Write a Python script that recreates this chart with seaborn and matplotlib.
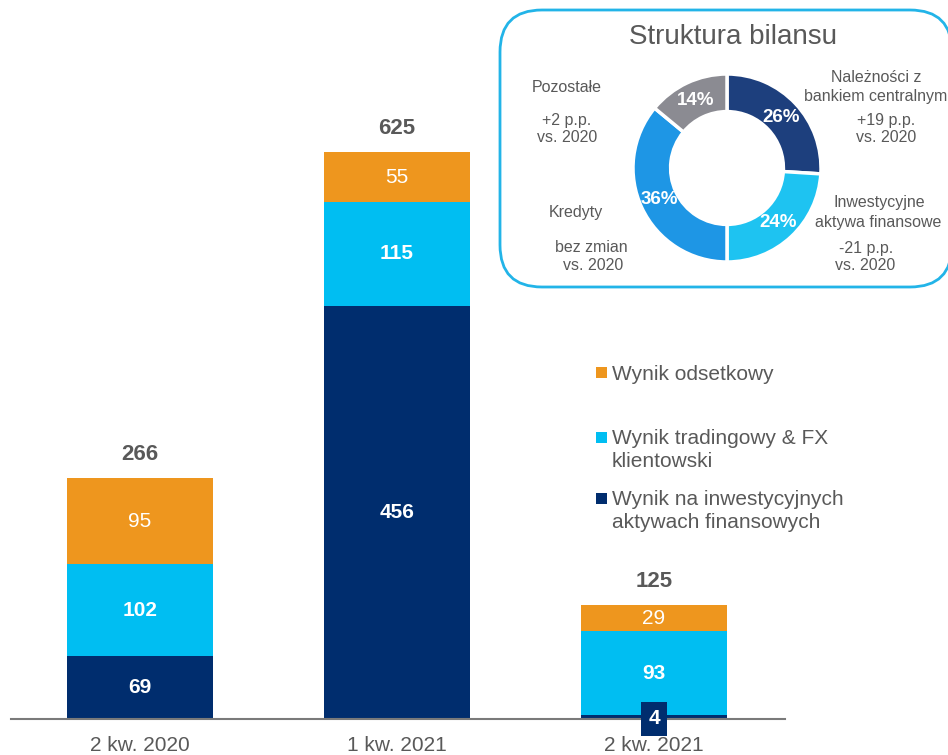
import numpy as np
import pandas as pd
import seaborn as sns
import matplotlib.pyplot as plt
from matplotlib.patches import FancyBboxPatch, Rectangle
from matplotlib.transforms import IdentityTransform

# data
quarters = ["2 kw. 2020", "1 kw. 2021", "2 kw. 2021"]
wynik_inwest = [69, 456, 4]
wynik_trading = [102, 115, 93]
wynik_odsetkowy = [95, 55, 29]
totals = [266, 625, 125]  # as printed (rounded) in the source

legend_labels = [
    "Wynik odsetkowy",
    "Wynik tradingowy & FX\nklientowski",
    "Wynik na inwestycyjnych\naktywach finansowych",
]

donut_labels = ["Należności z bankiem centralnym", "Inwestycyjne aktywa finansowe",
                "Kredyty", "Pozostałe"]
donut_shares = [26, 24, 36, 14]

ORANGE = "#EE961E"
LIGHT = "#00BEF2"
NAVY = "#002D6E"
GRAY = "#595959"
DONUT_COLORS = ["#1D3F7D", "#1EC3F1", "#1E96E5", "#8B8B92"]

sns.set_theme(style="white")
plt.rcParams["font.family"] = ["Liberation Sans", "DejaVu Sans"]

W, H = 948, 755
fig = plt.figure(figsize=(W / 100, H / 100), dpi=100)


def px(x, y):
    return x / W, 1 - y / H


# main stacked bars
df = pd.DataFrame({
    "quarter": quarters,
    "inwest": wynik_inwest,
    "trading": wynik_trading,
    "odsetki": wynik_odsetkowy,
    "label_total": totals,
})
df["cum_trading"] = df["inwest"] + df["trading"]
df["total"] = df["cum_trading"] + df["odsetki"]

ax = fig.add_axes([11 / W, 36 / H, 774 / W, 719 / H])
ax.patch.set_alpha(0)
bw = 0.57
for col, c in [("total", ORANGE), ("cum_trading", LIGHT), ("inwest", NAVY)]:
    sns.barplot(data=df, x="quarter", y=col, color=c, saturation=1, width=bw,
                linewidth=0, ax=ax)
ax.set_xlim(-0.502, 2.51)
ax.set_ylim(0, 719 / 0.906)
ax.set_xlabel("")
ax.set_ylabel("")
ax.set_yticks([])
for s in ["top", "right", "left"]:
    ax.spines[s].set_visible(False)
ax.spines["bottom"].set_color("#7A7A7A")
ax.spines["bottom"].set_linewidth(1.5)
ax.tick_params(axis="x", length=0, pad=12, labelsize=15, labelcolor=GRAY)

for i, row in df.iterrows():
    if row["inwest"] > 20:
        ax.text(i, row["inwest"] / 2, str(row["inwest"]), ha="center", va="center",
                color="white", fontsize=15, fontweight="bold")
    else:
        ax.text(i, 0, str(row["inwest"]), ha="center", va="center", color="white",
                fontsize=15, fontweight="bold", zorder=5,
                bbox=dict(boxstyle="square,pad=0.35", fc=NAVY, ec="none"))
    ax.text(i, row["inwest"] + row["trading"] / 2, str(row["trading"]), ha="center",
            va="center", color="white", fontsize=15, fontweight="bold")
    ax.text(i, row["cum_trading"] + row["odsetki"] / 2 - 1, str(row["odsetki"]),
            ha="center", va="center", color="white", fontsize=15)
    ax.text(i, row["total"] + 26, str(row["label_total"]), ha="center", va="center",
            color=GRAY, fontsize=16, fontweight="bold")

# legend drawn by hand (uneven spacing in the original)
for (ty, lab, col) in zip([373, 450, 511], legend_labels, [ORANGE, LIGHT, NAVY]):
    n = lab.count("\n")
    sq_y = ty - n * 12.5
    fig.add_artist(Rectangle((596, H - sq_y - 5), 11, 11, transform=IdentityTransform(),
                             fc=col, ec="none"))
    fig.text(*px(612, ty + (2 if n == 0 else 0)), lab, ha="left", va="center",
             fontsize=15, color=GRAY, linespacing=1.3)

# inset box
box = FancyBboxPatch((500, H - 287), 452, 277, boxstyle="round,pad=0,rounding_size=42",
                     transform=IdentityTransform(), fc="white", ec="#22B4E8", lw=2,
                     zorder=1)
fig.add_artist(box)
fig.text(*px(733, 37), "Struktura bilansu", ha="center", va="center", fontsize=20,
         color=GRAY, zorder=3)

cx, cy, r = 727, 168, 94
dax = fig.add_axes([(cx - r) / W, (H - cy - r) / H, 2 * r / W, 2 * r / H], zorder=2)
dax.patch.set_alpha(0)
wedges, _, autotexts = dax.pie(
    donut_shares, colors=DONUT_COLORS, startangle=90, counterclock=False,
    autopct="%d%%", pctdistance=0.79,
    wedgeprops=dict(width=0.40, edgecolor="white", linewidth=2.5),
    textprops=dict(color="white", fontsize=13.5, fontweight="bold"),
)
dax.set_xlim(-1, 1)
dax.set_ylim(-1, 1)
dax.set_aspect("equal")
dax.axis("off")

side_texts = [
    (567, 87, "Pozostałe"), (567, 120, "+2 p.p."), (567, 138, "vs. 2020"),
    (876, 77, "Należności z"), (876, 96, "bankiem centralnym"), (886, 120, "+19 p.p."),
    (886, 138, "vs. 2020"),
    (879, 203, "Inwestycyjne"), (878, 222, "aktywa finansowe"), (866, 248, "-21 p.p."),
    (865, 265, "vs. 2020"),
    (576, 212, "Kredyty"), (591, 247, "bez zmian"), (593, 265, "vs. 2020"),
]
for x, y, t in side_texts:
    fig.text(*px(x, y), t, ha="center", va="center", fontsize=11.5, color=GRAY, zorder=3)

fig.savefig("out.png", dpi=100)
